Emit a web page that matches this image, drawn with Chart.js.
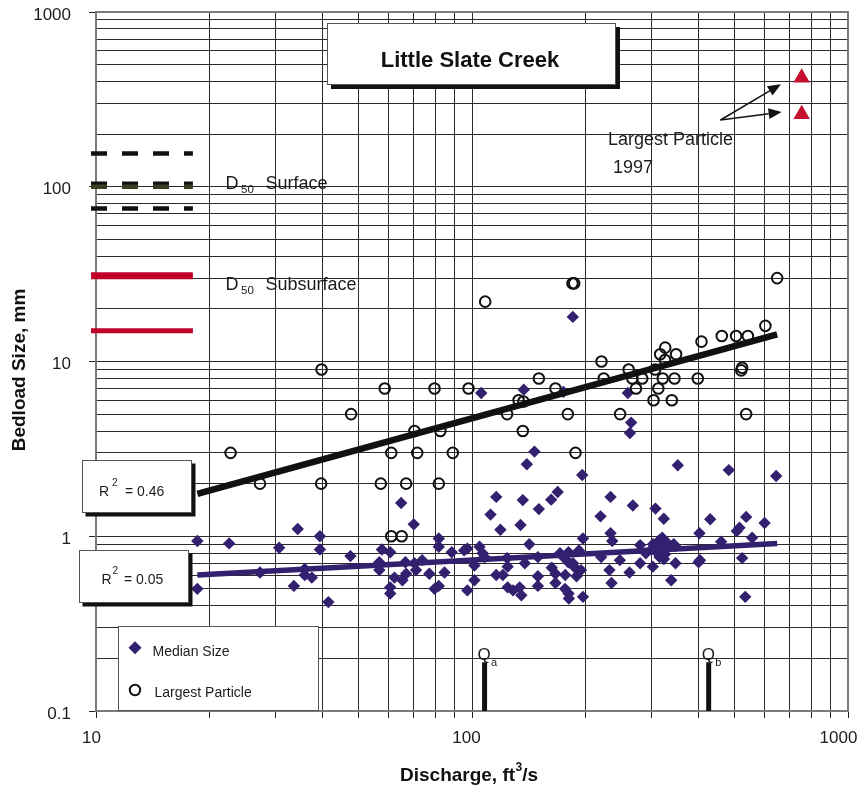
<!DOCTYPE html>
<html>
<head>
<meta charset="utf-8">
<script src="https://cdn.jsdelivr.net/npm/chart.js@4.4.1/dist/chart.umd.min.js"></script>
<style>
  html, body { margin: 0; padding: 0; background: #fff; }
  canvas { display: block; }
</style>
</head>
<body>
<canvas id="chart" width="859" height="785"></canvas>
<script>
// ---------------- data ----------------
// Median bedload size (mm) against discharge (ft3/s)
const medianQ = [18.6, 18.6, 22.6, 27.3, 30.7, 33.6, 34.4, 35.9, 35.9, 37.5, 39.4, 39.4, 41.5, 47.5,
  56.7, 56.7, 57.6, 60.6, 60.6, 60.6, 62.2, 64.8, 65.3, 66.5, 66.8, 70.0, 70.3, 71.0, 73.7, 77.0,
  79.5, 81.6, 81.6, 81.6, 84.5, 88.3, 95.3, 97.2, 97.2, 101.5, 101.5, 104.7, 106.7, 105.8, 108,
  112, 116, 119, 116, 120.8, 124.4, 124.4, 124, 128.6, 133.9, 135.3, 134.6, 136.5, 137.3, 138.2,
  139.9, 142, 146.6, 149.7, 149.7, 149.7, 150.6, 162.4, 169, 163, 166.7, 166.7, 171.4, 174, 175,
  176.8, 177, 180.4, 180.6, 181, 180.6, 185.4, 185.5, 188, 189.7, 192.5, 195, 196.4, 197.3, 197.3,
  219.7, 220.6, 232, 233.6, 233.6, 235, 236, 247.3, 259.7, 265, 263, 262.4, 267.8, 280, 280, 290,
  300, 302.6, 303, 307.6, 309, 312, 315, 315.3, 318, 320.6, 323.7, 324, 326, 330, 338.7, 344, 347,
  347.7, 352.6, 400.5, 404, 402.7, 430, 460, 482, 506, 514.5, 523, 533, 536, 556, 600, 644];
const medianD = [0.94, 0.50, 0.91, 0.62, 0.86, 0.52, 1.10, 0.65, 0.60, 0.58, 1.00, 0.84, 0.42, 0.77,
  0.71, 0.64, 0.84, 0.81, 0.51, 0.47, 0.58, 1.55, 0.56, 0.71, 0.61, 1.17, 0.70, 0.64, 0.73, 0.61,
  0.50, 0.52, 0.97, 0.87, 0.62, 0.81, 0.83, 0.85, 0.49, 0.56, 0.68, 0.87, 0.80, 6.6, 0.76,
  1.33, 1.68, 1.09, 0.60, 0.60, 0.67, 0.51, 0.75, 0.49, 0.51, 0.46, 1.16, 1.61, 6.9, 0.70,
  2.58, 0.90, 3.05, 0.59, 0.52, 0.76, 1.43, 1.62, 1.79, 0.66, 0.61, 0.54, 0.80, 0.77, 6.7,
  0.50, 0.60, 0.71, 0.47, 0.44, 0.81, 18, 0.70, 0.66, 0.59, 0.83, 0.64, 2.24, 0.97, 0.45,
  1.30, 0.76, 0.64, 1.68, 1.04, 0.54, 0.94, 0.73, 6.6, 4.47, 3.9, 0.62, 1.50, 0.89, 0.70, 0.80,
  0.84, 0.67, 0.90, 1.44, 0.89, 0.80, 0.95, 0.76, 0.85, 0.98, 1.26, 0.74, 0.79, 0.92, 0.56, 0.90, 0.88,
  0.70, 2.55, 0.71, 0.73, 1.04, 1.25, 0.93, 2.39, 1.07, 1.12, 0.75, 0.45, 1.29, 0.98, 1.19, 2.21];

// Largest particle in each sample (mm)
const largestQ = [22.8, 27.3, 39.8, 39.7, 47.7, 57.2, 58.6, 61, 61, 65, 66.8, 70.3, 71.5, 79.5, 81.6,
  82.4, 88.9, 97.9, 108.4, 124, 133, 137, 136.5, 150.6, 166.7, 179.8, 185, 187, 188.5, 221, 224,
  247.7, 261, 267, 273, 283.6, 304, 307, 313, 316.6, 321.6, 326.5, 326, 340, 345.6, 349, 398.6,
  407.7, 461.7, 504, 523, 520, 536, 541.5, 603, 648];
const largestD = [3.0, 2.0, 9.0, 2.0, 5.0, 2.0, 7.0, 3.0, 1.0, 1.0, 2.0, 4.0, 3.0, 7.0, 2.0,
  4.0, 3.0, 7.0, 22, 5.0, 6.0, 5.9, 4.0, 8.0, 7.0, 5.0, 28, 28, 3.0, 10, 8.0,
  5.0, 9.0, 8.0, 7.0, 8.0, 6.0, 9.0, 7.0, 11, 8.0, 12, 10.2, 6.0, 8.0, 11, 8.0,
  13, 14, 14, 9.2, 8.9, 5.0, 14, 16, 30];

// Power-law fits, end points
const largestFitQ = [18.6, 648];
const largestFitD = [1.75, 14.3];
const largestFitR2 = '0.46';
const medianFitQ = [18.6, 648];
const medianFitD = [0.60, 0.91];
const medianFitR2 = '0.05';

// Reference sizes drawn as short bars at the left edge
const d50Span = [9.7, 18.1];
const d50Surface = [155, 104, 75];
const d50SurfaceLow = 100;
const d50Subsurface = [31, 15];

// Largest particles, 1997
const largest1997Q = [753, 753];
const largest1997D = [420, 260];

// Reference discharges
const qMarks = [108, 426];
const qMarkNames = ['a', 'b'];
const qMarkTop = 0.19;

// Axis labels
const xTickLabels = ['10', '100', '1000'];
const yTickLabels = ['0.1', '1', '10', '100', '1000'];

// ---------------- helpers ----------------
const FONT = '"Liberation Sans", Arial, Helvetica, sans-serif';
const INDIGO = '#33206f';
const CRIMSON = '#c4102e';
const INK = '#1c1c1c';

const pts = (xs, ys) => xs.map((x, i) => ({ x, y: ys[i] }));

function gridValues(labels) {
  const decades = labels.map(Number);
  const out = [];
  for (let i = 0; i < decades.length - 1; i++) {
    for (let k = 1; k < 10; k++) out.push(+(decades[i] * k).toPrecision(3));
  }
  out.push(decades[decades.length - 1]);
  return out;
}
const xGrid = gridValues(xTickLabels);
const yGrid = gridValues(yTickLabels);
const isDecade = v => Math.abs(Math.log10(v) - Math.round(Math.log10(v))) < 1e-9;

function hLine(value, width, color, dash) {
  return {
    data: pts(d50Span, [value, value]),
    showLine: true, pointRadius: 0, borderColor: color, borderWidth: width,
    borderDash: dash || [], borderCapStyle: 'butt', clip: false, order: 5
  };
}

// ---------------- datasets ----------------
const datasets = [
  { label: 'Largest Particle fit', data: pts(largestFitQ, largestFitD), showLine: true, pointRadius: 0,
    borderColor: '#111', borderWidth: 6.5, borderCapStyle: 'butt', order: 0 },
  { label: 'Median Size fit', data: pts(medianFitQ, medianFitD), showLine: true, pointRadius: 0,
    borderColor: INDIGO, borderWidth: 5.5, borderCapStyle: 'butt', order: 0 },
  { label: 'Largest Particle', data: pts(largestQ, largestD), pointStyle: 'circle', pointRadius: 5.3,
    backgroundColor: 'rgba(0,0,0,0)', borderColor: '#111', borderWidth: 2, order: 1 },
  { label: 'Median Size', data: pts(medianQ, medianD), pointStyle: 'rectRot', pointRadius: 6.2,
    backgroundColor: INDIGO, borderColor: INDIGO, borderWidth: 0, order: 2 },
  { label: 'Largest Particle 1997', data: pts(largest1997Q, largest1997D), pointStyle: 'triangle',
    pointRadius: 9.5, backgroundColor: CRIMSON, borderColor: CRIMSON, borderWidth: 0, order: 2 },
  hLine(d50SurfaceLow, 4.5, '#3b3d22', [16, 15]),
  hLine(d50Surface[0], 4.5, '#111', [16, 15]),
  hLine(d50Surface[1], 4.5, '#111', [16, 15]),
  hLine(d50Surface[2], 4.5, '#111', [16, 15]),
  hLine(d50Subsurface[0], 7, '#c00028'),
  hLine(d50Subsurface[1], 5, '#c00028'),
  ...qMarks.map(q => ({
    label: 'Q', data: pts([q, q], [0.1, qMarkTop]), showLine: true, pointRadius: 0,
    borderColor: '#111', borderWidth: 5, borderCapStyle: 'butt', order: 0
  }))
];

// ---------------- drawing of boxes, texts and axis labels ----------------
function shadowBox(ctx, l, t, r, b, off) {
  ctx.fillStyle = '#111';
  ctx.fillRect(l + off, t + off, r - l, b - t);
  ctx.fillStyle = '#fff';
  ctx.fillRect(l, t, r - l, b - t);
  ctx.strokeStyle = '#555';
  ctx.lineWidth = 1;
  ctx.strokeRect(l + 0.5, t + 0.5, r - l - 1, b - t - 1);
}

function text(ctx, s, x, y, font, align, color) {
  ctx.font = font;
  ctx.fillStyle = color || INK;
  ctx.textAlign = align || 'left';
  ctx.textBaseline = 'alphabetic';
  ctx.fillText(s, x, y);
}

function arrow(ctx, x0, y0, x1, y1) {
  const a = Math.atan2(y1 - y0, x1 - x0);
  const L = 13, W = 5.5;
  const bx = x1 - L * Math.cos(a), by = y1 - L * Math.sin(a);
  ctx.strokeStyle = '#111';
  ctx.lineWidth = 1.5;
  ctx.beginPath(); ctx.moveTo(x0, y0); ctx.lineTo(bx, by); ctx.stroke();
  ctx.fillStyle = '#111';
  ctx.beginPath();
  ctx.moveTo(x1, y1);
  ctx.lineTo(bx + W * Math.sin(a), by - W * Math.cos(a));
  ctx.lineTo(bx - W * Math.sin(a), by + W * Math.cos(a));
  ctx.closePath(); ctx.fill();
}

const overlay = {
  id: 'overlay',
  beforeDraw(chart) {
    const ctx = chart.ctx;
    ctx.save();
    ctx.fillStyle = '#fff';
    ctx.fillRect(0, 0, chart.width, chart.height);
    ctx.restore();
  },
  beforeDatasetsDraw(chart) {
    const { ctx, chartArea: a } = chart;
    ctx.save();
    ctx.strokeStyle = '#7a7a7a';
    ctx.lineWidth = 2;
    ctx.strokeRect(a.left, a.top, a.right - a.left, a.bottom - a.top);
    ctx.restore();
  },
  afterDatasetsDraw(chart) {
    const ctx = chart.ctx;
    const xs = chart.scales.x, ys = chart.scales.y;
    ctx.save();

    // chart title
    shadowBox(ctx, 327, 23, 616, 85, 4);
    text(ctx, 'Little Slate Creek', 470, 67, 'bold 22px ' + FONT, 'center', '#111');

    // fit statistics
    shadowBox(ctx, 82, 460, 192, 513, 3.5);
    text(ctx, 'R', 99, 496, '14px ' + FONT);
    text(ctx, '2', 112, 485.5, '10px ' + FONT);
    text(ctx, '= ' + largestFitR2, 125, 496, '14px ' + FONT);
    shadowBox(ctx, 79, 550, 189, 603, 3.5);
    text(ctx, 'R', 101.5, 583.5, '14px ' + FONT);
    text(ctx, '2', 112.5, 573.5, '10px ' + FONT);
    text(ctx, '= ' + medianFitR2, 124, 583.5, '14px ' + FONT);

    // legend
    ctx.fillStyle = '#fff';
    ctx.fillRect(118, 626, 200, 85);
    ctx.strokeStyle = '#555';
    ctx.lineWidth = 1;
    ctx.strokeRect(118.5, 626.5, 200, 84);
    ctx.fillStyle = INDIGO;
    ctx.beginPath();
    ctx.moveTo(135, 641.2); ctx.lineTo(141.5, 647.7); ctx.lineTo(135, 654.2); ctx.lineTo(128.5, 647.7);
    ctx.closePath(); ctx.fill();
    text(ctx, 'Median Size', 152.5, 656, '14px ' + FONT);
    ctx.strokeStyle = '#111';
    ctx.lineWidth = 2;
    ctx.beginPath(); ctx.arc(135, 690, 5.2, 0, Math.PI * 2); ctx.stroke();
    text(ctx, 'Largest Particle', 154.5, 697, '14px ' + FONT);

    // reference size labels
    text(ctx, 'D', 225.5, 189, '18px ' + FONT);
    text(ctx, '50', 241, 192.5, '11.5px ' + FONT);
    text(ctx, 'Surface', 265.5, 189, '18px ' + FONT);
    text(ctx, 'D', 225.5, 290, '18px ' + FONT);
    text(ctx, '50', 241, 293.5, '11.5px ' + FONT);
    text(ctx, 'Subsurface', 265.5, 290, '18px ' + FONT);

    // 1997 largest particle note with arrows to the two triangles
    text(ctx, 'Largest Particle', 608, 145, '18px ' + FONT);
    text(ctx, '1997', 613, 173, '18px ' + FONT);
    const tailX = xs.getPixelForValue(458), tailY = ys.getPixelForValue(241);
    arrow(ctx, tailX, tailY, xs.getPixelForValue(663), ys.getPixelForValue(386));
    arrow(ctx, tailX, tailY, xs.getPixelForValue(666), ys.getPixelForValue(268));

    // reference discharge labels
    qMarks.forEach((q, i) => {
      const px = xs.getPixelForValue(q);
      const top = ys.getPixelForValue(qMarkTop);
      text(ctx, 'Q', px - 7, top - 2.5, '17px ' + FONT);
      text(ctx, qMarkNames[i], px + 6.5, top + 4, '11px ' + FONT);
    });

    ctx.restore();
  },
  afterDraw(chart) {
    const ctx = chart.ctx;
    const xs = chart.scales.x, ys = chart.scales.y;
    ctx.save();
    // tick labels
    const xShift = [-4.5, -5.5, -9.5];
    xTickLabels.forEach((lab, i) => {
      text(ctx, lab, xs.getPixelForValue(Number(lab)) + xShift[i], 743, '17px ' + FONT, 'center');
    });
    yTickLabels.forEach(lab => {
      text(ctx, lab, 71, ys.getPixelForValue(Number(lab)) + 7.5, '17px ' + FONT, 'right');
    });
    // axis titles
    ctx.font = 'bold 19px ' + FONT;
    ctx.fillStyle = '#111';
    ctx.textAlign = 'left';
    ctx.textBaseline = 'alphabetic';
    const part1 = 'Discharge, ft';
    let x = 400;
    ctx.fillText(part1, x, 781);
    x += ctx.measureText(part1).width;
    ctx.font = 'bold 12px ' + FONT;
    ctx.fillText('3', x + 0.5, 771);
    x += ctx.measureText('3').width + 0.5;
    ctx.font = 'bold 19px ' + FONT;
    ctx.fillText('/s', x, 781);

    ctx.translate(25, 370);
    ctx.rotate(-Math.PI / 2);
    ctx.textAlign = 'center';
    ctx.fillText('Bedload Size, mm', 0, 0);
    ctx.restore();
  }
};

// ---------------- chart ----------------
new Chart(document.getElementById('chart'), {
  type: 'scatter',
  data: { datasets },
  options: {
    responsive: false,
    animation: false,
    events: [],
    devicePixelRatio: 1,
    layout: { padding: { left: 0, right: 11, top: 12, bottom: 0 } },
    plugins: { legend: { display: false }, tooltip: { enabled: false }, title: { display: false } },
    scales: {
      x: {
        type: 'logarithmic', position: 'bottom', min: 10, max: 1000,
        afterBuildTicks: s => { s.ticks = xGrid.map(v => ({ value: v })); },
        afterFit: s => { s.height = 74; },
        ticks: { display: false },
        grid: { color: '#2a2a2a', lineWidth: 1, tickLength: 7, tickColor: '#222', drawTicks: true },
        border: { display: false }
      },
      y: {
        type: 'logarithmic', position: 'left', min: 0.1, max: 1000,
        afterBuildTicks: s => { s.ticks = yGrid.map(v => ({ value: v })); },
        afterFit: s => { s.width = 96; },
        ticks: { display: false },
        grid: {
          color: '#2a2a2a', lineWidth: 1, tickLength: 7, drawTicks: true,
          tickColor: c => (c.tick && isDecade(c.tick.value)) ? '#222' : 'rgba(0,0,0,0)'
        },
        border: { display: false }
      }
    }
  },
  plugins: [overlay]
});
</script>
</body>
</html>
